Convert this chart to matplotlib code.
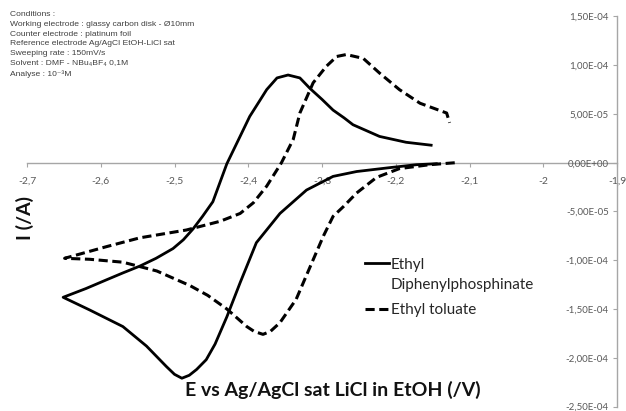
import matplotlib
matplotlib.use("Agg")
import matplotlib.pyplot as plt

# Ethyl Diphenylphosphinate : aller (vers le cathodique) puis retour, I en 1e-5 A
e_phos = [-2.145, -2.172, -2.208, -2.253, -2.285, -2.321, -2.357, -2.389, -2.411,
          -2.429, -2.445, -2.457, -2.470, -2.480, -2.490, -2.500, -2.511, -2.538,
          -2.570, -2.615, -2.651,
          -2.620, -2.592, -2.570, -2.547, -2.525, -2.502, -2.488, -2.475, -2.462,
          -2.448, -2.429, -2.413, -2.398, -2.385, -2.375, -2.361, -2.346, -2.330,
          -2.316, -2.300, -2.285, -2.270, -2.258, -2.240, -2.222, -2.204, -2.186,
          -2.152]
i_phos = [-0.1, -0.2, -0.5, -0.9, -1.4, -2.8, -5.2, -8.2, -12.3,
          -15.8, -18.6, -20.2, -21.2, -21.8, -22.1, -21.7, -20.9, -18.8,
          -16.8, -15.1, -13.8,
          -12.9, -12.0, -11.3, -10.6, -9.8, -8.8, -7.9, -6.8, -5.5,
          -4.0, -0.1, 2.4, 4.75, 6.3, 7.5, 8.7, 9.0, 8.7,
          7.6, 6.5, 5.4, 4.6, 3.9, 3.3, 2.7, 2.4, 2.1,
          1.8]

# Ethyl toluate
e_tol = [-2.120, -2.154, -2.195, -2.226, -2.253, -2.271, -2.285, -2.298, -2.312,
         -2.335, -2.357, -2.370, -2.380, -2.392, -2.402, -2.429, -2.455, -2.479,
         -2.524, -2.570, -2.615, -2.649,
         -2.592, -2.547, -2.484, -2.438, -2.411, -2.393, -2.375, -2.355, -2.339,
         -2.330, -2.312, -2.294, -2.280, -2.267, -2.244, -2.222, -2.195, -2.167,
         -2.131, -2.127]
i_tol = [0.0, -0.2, -0.6, -1.5, -3.1, -4.5, -5.5, -7.5, -9.95,
         -14.0, -16.4, -17.3, -17.6, -17.3, -16.8, -15.0, -13.6, -12.6,
         -11.1, -10.2, -9.9, -9.8,
         -8.6, -7.7, -6.9, -6.0, -5.2, -4.1, -2.4, 0.0, 2.4,
         5.1, 8.2, 9.9, 10.9, 11.1, 10.7, 9.2, 7.5, 6.1,
         5.1, 4.1]

x_ticks = [-2.7, -2.6, -2.5, -2.4, -2.3, -2.2, -2.1, -2.0, -1.9]
x_labels = ['-2,7', '-2,6', '-2,5', '-2,4', '-2,3', '-2,2', '-2,1', '-2', '-1,9']
y_ticks = [1.5e-4, 1e-4, 5e-5, 0, -5e-5, -1e-4, -1.5e-4, -2e-4, -2.5e-4]
y_labels = ['1,50E-04', '1,00E-04', '5,00E-05', '0,00E+00', '-5,00E-05',
            '-1,00E-04', '-1,50E-04', '-2,00E-04', '-2,50E-04']

conditions = ("Conditions :\n"
              "Working electrode : glassy carbon disk - Ø10mm\n"
              "Counter electrode : platinum foil\n"
              "Reference electrode Ag/AgCl EtOH-LiCl sat\n"
              "Sweeping rate : 150mV/s\n"
              "Solvent : DMF - NBu₄BF₄ 0,1M\n"
              "Analyse : 10⁻³M")

axis_col = '#a6a6a6'
lab_col = '#595959'
fam = ['Lato', 'DejaVu Sans']

fig = plt.figure(figsize=(6.26, 4.11), dpi=100)
ax = fig.add_axes([27 / 626, 1 - 406.5 / 411, 590 / 626, 390 / 411])

ax.plot(e_phos, [v * 1e-5 for v in i_phos], color='black', lw=2.0,
        label='Ethyl')
ax.plot(e_tol, [v * 1e-5 for v in i_tol], color='black', lw=2.2,
        linestyle=(0, (3, 1.5)), label='Ethyl toluate')

ax.set_xlim(-2.7, -1.9)
ax.set_ylim(-2.5e-4, 1.5e-4)

# axes croisés facon Excel
ax.spines['left'].set_position(('data', -1.9))
ax.spines['bottom'].set_position(('data', 0))
ax.spines['top'].set_visible(False)
ax.spines['right'].set_visible(False)
for s in ['left', 'bottom']:
    ax.spines[s].set_color(axis_col)
    ax.spines[s].set_linewidth(1.0)
    ax.spines[s].set_zorder(0)

ax.set_xticks(x_ticks)
ax.set_xticklabels(x_labels)
ax.set_yticks(y_ticks)
ax.set_yticklabels(y_labels)
ax.tick_params(axis='both', direction='out', length=3, color=axis_col,
               labelcolor=lab_col)
ax.tick_params(axis='x', pad=7, labelsize=7.5)
ax.tick_params(axis='y', pad=3, labelsize=7)
for t in ax.get_xticklabels() + ax.get_yticklabels():
    t.set_family(fam)

fig.text(333 / 626, 1 - 390 / 411, 'E vs Ag/AgCl sat LiCl in EtOH (/V)',
         ha='center', va='center', fontsize=14, fontweight='bold',
         family=fam, color='#111111')
fig.text(25 / 626, 1 - 218 / 411, 'I (/A)', rotation=90, ha='center', va='center',
         fontsize=14, fontweight='bold', family=fam, color='#111111')

fig.text(10 / 626, 1 - 11 / 411, conditions, ha='left', va='top', fontsize=6.1,
         linespacing=1.55, family=['Liberation Sans', 'DejaVu Sans'],
         color='#404040')

# légende : la deuxième ligne du premier libellé est posée à part
leg = ax.legend(loc='upper left', bbox_to_anchor=(354 / 626, 1 - 247 / 411),
                bbox_transform=fig.transFigure, frameon=False,
                handlelength=1.6, handletextpad=0.1, labelspacing=2.08,
                borderpad=0.2, prop={'family': fam, 'size': 11})
for t in leg.get_texts():
    t.set_color('#262626')
fig.text(391 / 626, 1 - 285 / 411, 'Diphenylphosphinate', ha='left', va='center',
         fontsize=11, family=fam, color='#262626')

fig.savefig('out.png', dpi=100)
